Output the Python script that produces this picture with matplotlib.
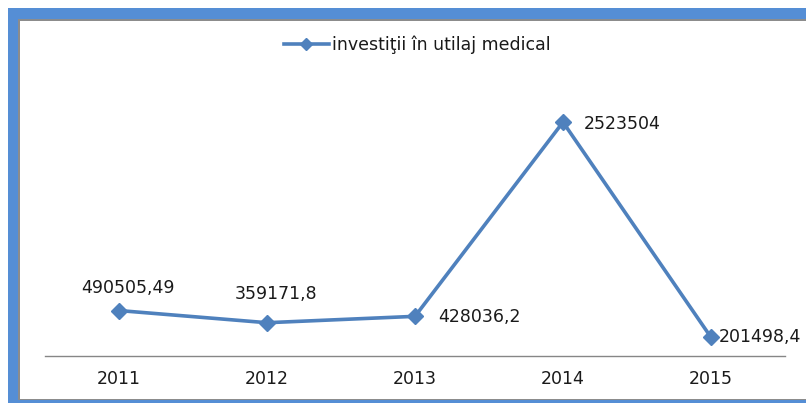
import matplotlib
matplotlib.use("Agg")
import matplotlib.pyplot as plt
from matplotlib.patches import Rectangle
from matplotlib.lines import Line2D

years = ["2011", "2012", "2013", "2014", "2015"]
values = [490505.49, 359171.8, 428036.2, 2523504, 201498.4]
labels = ["490505,49", "359171,8", "428036,2", "2523504", "201498,4"]
series_name = "investiţii în utilaj medical"

W, H = 806, 403
blue = "#4F81BD"
frame_blue = "#558ED5"

fig = plt.figure(figsize=(W / 100, H / 100), dpi=100)


def px_rect(x0, y0, x1, y1, color):
    # rectangle in pixel coords, y measured from the top
    fig.patches.append(Rectangle((x0 / W, 1 - y1 / H), (x1 - x0) / W, (y1 - y0) / H,
                                 transform=fig.transFigure, color=color, lw=0, zorder=0))


# page frame around the chart
px_rect(8, 8, W, 19, frame_blue)
px_rect(8, 8, 18, H, frame_blue)
px_rect(8, 400, W, H, frame_blue)
px_rect(18, 19, W, 20.5, "#8C8C8C")
px_rect(18, 19, 20, 400, "#8C8C8C")
px_rect(18, 398.5, W, 400, "#8C8C8C")

ax = fig.add_axes([45 / W, 1 - 356 / H, (785 - 45) / W, (356 - 78) / H])
ax.set_facecolor("none")
x = list(range(len(years)))
ax.plot(x, values, color=blue, lw=2.6, marker="D", markersize=8.5,
        markerfacecolor=blue, markeredgecolor=blue, zorder=3)

ax.set_xlim(-0.5, len(years) - 0.5)
ax.set_ylim(0, 3000000)
ax.set_xticks(x)
ax.set_xticklabels(years, fontsize=12.5, color="#1a1a1a")
ax.tick_params(axis="x", length=0, pad=10)
ax.set_yticks([])
for s in ["top", "left", "right"]:
    ax.spines[s].set_visible(False)
ax.spines["bottom"].set_color("#868686")
ax.spines["bottom"].set_linewidth(1)

# data labels: (dx, dy, ha) in pixels
label_pos = [(9, 23, "center"), (9, 29, "center"), (23, -1, "left"),
             (21, -2, "left"), (8, 0, "left")]
for xi, v, t, (dx, dy, ha) in zip(x, values, labels, label_pos):
    ax.annotate(t, (xi, v), xytext=(dx, dy), textcoords="offset pixels",
                ha=ha, va="center", fontsize=12.5, color="#1a1a1a", zorder=4)

handle = Line2D([], [], color=blue, lw=2.6, marker="D", markersize=6)
fig.legend([handle], [series_name], loc="center", bbox_to_anchor=(417 / W, 1 - 45 / H),
           frameon=False, fontsize=12.5, handlelength=2.6, handletextpad=0.15,
           labelcolor="#1a1a1a")

fig.savefig("out.png", dpi=100)
